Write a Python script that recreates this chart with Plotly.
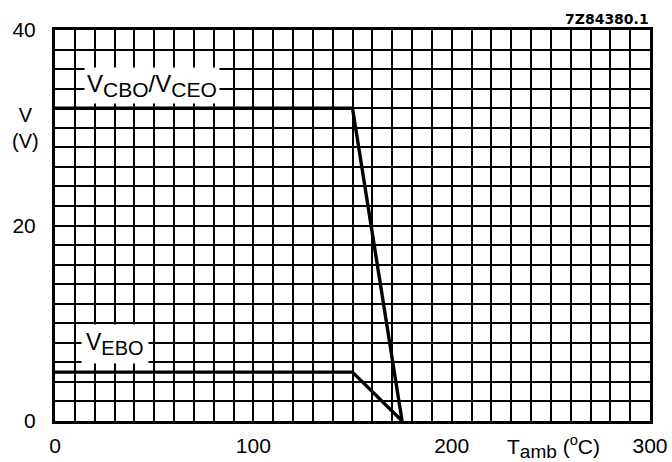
import plotly.graph_objects as go

# data
t_cbo = [0, 150, 175]
v_cbo = [32, 32, 0]
t_ebo = [0, 150, 175]
v_ebo = [5, 5, 0]
x_ticks = [0, 100, 200, 300]
y_ticks = [0, 20, 40]

FONT = "Liberation Sans, Arial, sans-serif"

fig = go.Figure()
for xs, ys in [(t_cbo, v_cbo), (t_ebo, v_ebo)]:
    fig.add_trace(go.Scatter(x=xs, y=ys, mode="lines",
                             line=dict(color="black", width=3.4),
                             showlegend=False, hoverinfo="skip"))

fig.update_layout(
    width=672, height=462,
    margin=dict(l=55, r=22, t=30, b=41),
    paper_bgcolor="white", plot_bgcolor="white",
    font=dict(family=FONT, size=21, color="black"),
    showlegend=False,
)
GW = 1.7
fig.update_xaxes(
    range=[0, 300], tickmode="array", tickvals=x_ticks,
    showgrid=True, gridcolor="black", gridwidth=GW,
    minor=dict(dtick=10, showgrid=True, gridcolor="black", gridwidth=GW),
    showline=True, linecolor="black", linewidth=3, mirror=True,
    ticks="", ticklen=0, zeroline=False, automargin=False,
    tickfont=dict(size=21, family=FONT),
    ticklabelstandoff=4,
)
fig.update_yaxes(
    range=[0, 40], tickmode="array", tickvals=y_ticks,
    showgrid=True, gridcolor="black", gridwidth=GW,
    minor=dict(dtick=2, showgrid=True, gridcolor="black", gridwidth=GW),
    showline=True, linecolor="black", linewidth=3, mirror=True,
    ticks="", ticklen=0, zeroline=False, automargin=False,
    tickfont=dict(size=21, family=FONT),
    ticklabelstandoff=12,
)

SUB = "<sub><span style='font-size:{}px'>{}</span></sub>"
fig.add_annotation(x=49, y=34.3, xref="x", yref="y",
                   text="V" + SUB.format(21, "CBO") + "/V" + SUB.format(21, "CEO"),
                   showarrow=False, bgcolor="white",
                   font=dict(size=24, family=FONT), borderpad=2)
fig.add_annotation(x=30, y=7.9, xref="x", yref="y",
                   text="V" + SUB.format(20, "EBO"), showarrow=False,
                   bgcolor="white", font=dict(size=23, family=FONT),
                   borderpad=4)
fig.add_annotation(x=-0.05, y=0.75, xref="paper", yref="paper",
                   showarrow=False, text="V<br>(V)", align="center",
                   xanchor="center", yanchor="middle",
                   font=dict(size=20, family=FONT))
fig.add_annotation(x=0.837, y=-0.066, xref="paper", yref="paper",
                   showarrow=False,
                   text="T" + SUB.format(19, "amb") + " (<sup>o</sup>C)",
                   xanchor="center", yanchor="middle",
                   font=dict(size=21, family=FONT))
fig.add_annotation(x=1.002, y=1.028, xref="paper", yref="paper",
                   showarrow=False, text="<b>7Z84380.1</b>",
                   xanchor="right", yanchor="middle",
                   font=dict(size=14, family="DejaVu Sans, sans-serif"))

fig.write_html("out.html", config={"displayModeBar": False},
               post_script="document.body.style.margin='0';")
